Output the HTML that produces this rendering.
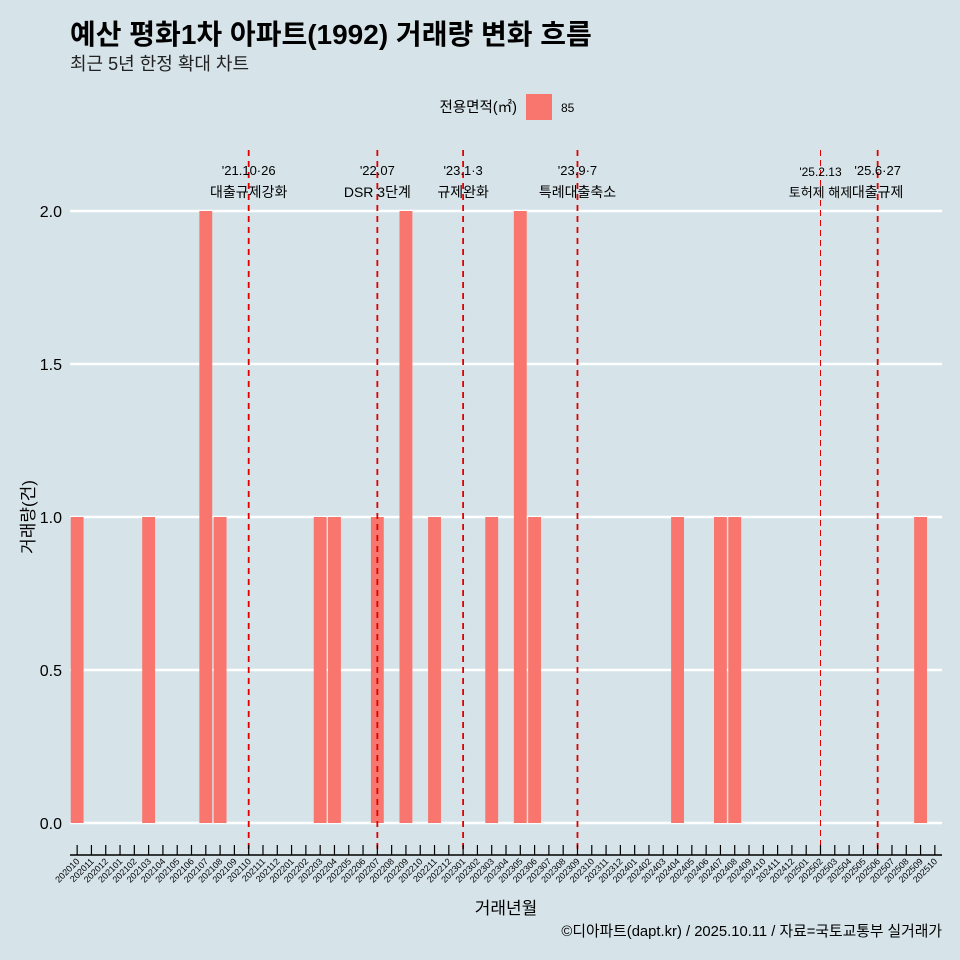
<!DOCTYPE html>
<html><head><meta charset="utf-8"><style>
html,body{margin:0;width:960px;height:960px;overflow:hidden;background:#d6e4ea;font-family:"Liberation Sans","Noto Sans CJK KR",sans-serif}
svg{display:block}
svg text{font-family:"Liberation Sans","Noto Sans CJK KR",sans-serif}
</style></head><body>
<svg id="c" width="960" height="960" xmlns="http://www.w3.org/2000/svg">
<rect width="960" height="960" fill="#d6e4ea"/>
<text x="70" y="44" font-size="28" font-weight="bold" fill="#000">예산 평화1차 아파트(1992) 거래량 변화 흐름</text>
<text x="70" y="70" font-size="18" fill="#222">최근 5년 한정 확대 차트</text>
<text x="517" y="112" font-size="14.5" text-anchor="end" fill="#000">전용면적(㎡)</text>
<rect x="526" y="94" width="26" height="26" fill="#f8766d"/>
<text x="561" y="112" font-size="12" fill="#000">85</text>
<text x="34" y="517" font-size="17" text-anchor="middle" transform="rotate(-90 34 517)">거래량(건)</text>
<text x="506" y="914" font-size="17" text-anchor="middle">거래년월</text>
<text x="942" y="936" font-size="14.8" text-anchor="end">©디아파트(dapt.kr) / 2025.10.11 / 자료=국토교통부 실거래가</text>
<g id="g"></g>
</svg>
<script>
const categories=[];
for(let y=2020,m=10;!(y===2025&&m===11);){categories.push(String(y)+String(m).padStart(2,'0'));m++;if(m>12){m=1;y++;}}
const valueMonths=["202010","202103","202107","202108","202203","202204","202207","202209","202211","202303","202305","202306","202404","202407","202408","202509"];
const values=[1,1,2,1,1,1,1,2,1,1,2,1,1,1,1,1];
const yTicks=[0,0.5,1,1.5,2];
const yTickLabels=["0.0","0.5","1.0","1.5","2.0"];
const eventMonths=["202110","202207","202301","202309","202502","202506"];
const eventDates=["'21.10·26","'22.07","'23.1·3","'23.9·7","'25.2.13","'25.6·27"];
const eventLabels=["대출규제강화","DSR 3단계","규제완화","특례대출축소","토허제 해제","대출규제"];
const NS="http://www.w3.org/2000/svg";
const g=document.getElementById('g');
const x0=70,x1=942,bw=(x1-x0)/categories.length;
const xc=c=>x0+(categories.indexOf(c)+0.5)*bw;
const y=v=>823-v*306;
function el(t,a,p){const e=document.createElementNS(NS,t);for(const k in a)e.setAttribute(k,a[k]);(p||g).appendChild(e);return e;}
yTicks.forEach((v,i)=>{
 const l=el('line',{x1:x0,x2:x1,y1:y(v),y2:y(v),stroke:'#fff','stroke-width':2.5});
 
 
 const t=el('text',{x:62,y:y(v)+6,'font-size':16,'text-anchor':'end'});t.textContent=yTickLabels[i];
 
 
});
valueMonths.forEach((m,i)=>{
 const r=el('rect',{x:xc(m)-bw*0.45,y:y(values[i]),width:bw*0.9,height:y(0)-y(values[i]),fill:'#f8766d'});
 
 
});
eventMonths.forEach((m,i)=>{
 const x=xc(m),thin=m==="202502";
 const l=el('line',{x1:x,x2:x,y1:150,y2:855,stroke:'#e00000','stroke-width':thin?1:1.8,'stroke-dasharray':thin?'6,4':'6,5'});
 
 
 const t1=el('text',{x:x,y:thin?176:175,'font-size':thin?12:13,'text-anchor':'middle'});t1.textContent=eventDates[i];
 
 
 const t2=el('text',{x:x,y:197,'font-size':thin?13:14,'text-anchor':'middle'});t2.textContent=eventLabels[i];
 
 
});
const ax=el('line',{x1:x0,x2:x1,y1:855,y2:855,stroke:'#000','stroke-width':1.5});


categories.forEach(c=>{
 const x=xc(c);
 const tk=el('line',{x1:x,x2:x,y1:845,y2:855,stroke:'#000','stroke-width':1.2});
 
 
 const t=el('text',{x:x+3,y:862,'font-size':9,'text-anchor':'end',transform:`rotate(-45 ${x+3} 862)`});t.textContent=c;
 
 
});
</script>
</body></html>
